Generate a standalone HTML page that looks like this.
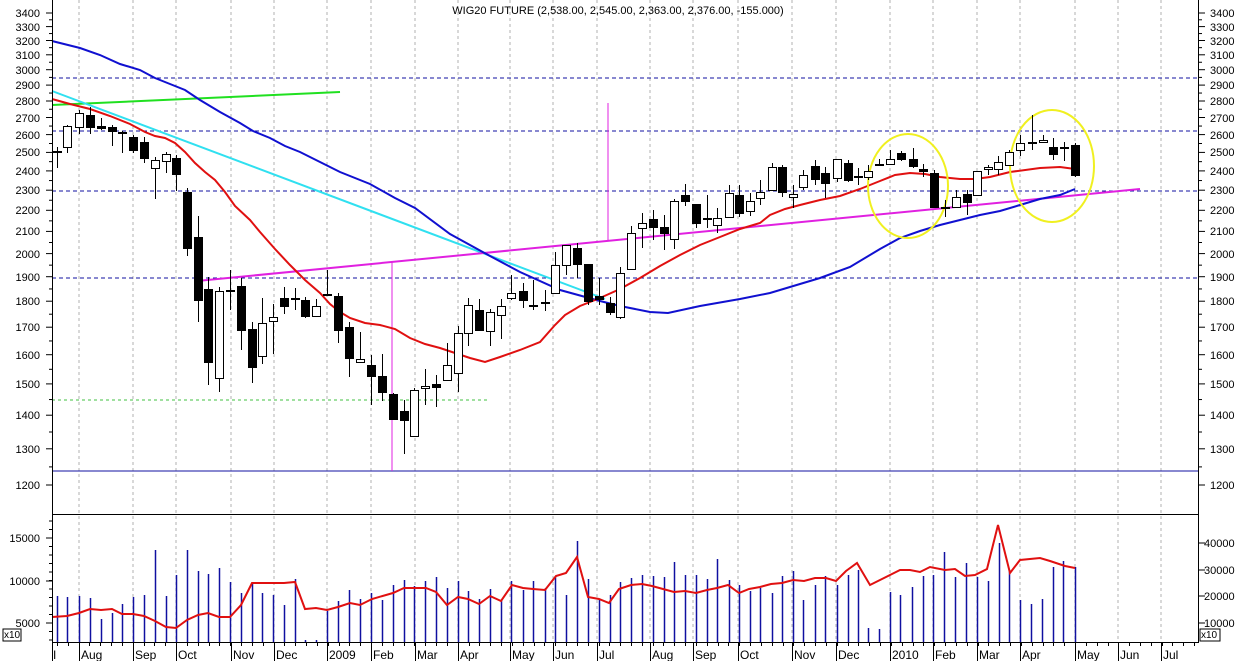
<!DOCTYPE html>
<html><head><meta charset="utf-8"><style>
html,body{margin:0;padding:0;background:#fff;}
svg{display:block;font-family:"Liberation Sans",sans-serif;font-size:11px;}
</style></head><body>
<svg id="s" width="1250" height="661" viewBox="0 0 1250 661" xmlns="http://www.w3.org/2000/svg">
<rect width="1250" height="661" fill="#fff"/>
<g id="grid" stroke="#b0b0b0" stroke-dasharray="3,3" stroke-width="1"></g>
<g id="hl"></g>
<g id="lines" fill="none"></g>
<g id="cand"></g>
<g id="vol"></g>
<g id="axes" stroke="#000" stroke-width="1"></g>
<text x="618" y="14" text-anchor="middle" font-size="11">WIG20 FUTURE (2,538.00, 2,545.00, 2,363.00, 2,376.00, -155.000)</text>
<g font-size="11" text-anchor="end">
<text x="40" y="17">3400</text><text x="40" y="31">3300</text><text x="40" y="45">3200</text><text x="40" y="59">3100</text><text x="40" y="74">3000</text><text x="40" y="89">2900</text><text x="40" y="105">2800</text><text x="40" y="122">2700</text><text x="40" y="139">2600</text><text x="40" y="156">2500</text><text x="40" y="175">2400</text><text x="40" y="194">2300</text><text x="40" y="214">2200</text><text x="40" y="235">2100</text><text x="40" y="258">2000</text><text x="40" y="281">1900</text><text x="40" y="305">1800</text><text x="40" y="331">1700</text><text x="40" y="359">1600</text><text x="40" y="388">1500</text><text x="40" y="419">1400</text><text x="40" y="453">1300</text><text x="40" y="489">1200</text>
<text x="40" y="542">15000</text><text x="40" y="585">10000</text><text x="40" y="627">5000</text>
</g>
<g font-size="11" text-anchor="start">
<text x="1210" y="17">3400</text><text x="1210" y="31">3300</text><text x="1210" y="45">3200</text><text x="1210" y="59">3100</text><text x="1210" y="74">3000</text><text x="1210" y="89">2900</text><text x="1210" y="105">2800</text><text x="1210" y="122">2700</text><text x="1210" y="139">2600</text><text x="1210" y="156">2500</text><text x="1210" y="175">2400</text><text x="1210" y="194">2300</text><text x="1210" y="214">2200</text><text x="1210" y="235">2100</text><text x="1210" y="258">2000</text><text x="1210" y="281">1900</text><text x="1210" y="305">1800</text><text x="1210" y="331">1700</text><text x="1210" y="359">1600</text><text x="1210" y="388">1500</text><text x="1210" y="419">1400</text><text x="1210" y="453">1300</text><text x="1210" y="489">1200</text>
<text x="1204" y="547">40000</text><text x="1204" y="574">30000</text><text x="1204" y="600">20000</text><text x="1204" y="627">10000</text>
</g>
<rect x="3" y="629" width="18" height="12" fill="none" stroke="#000"/><text x="4" y="638" font-size="10">x10</text>
<rect x="1200" y="629" width="20" height="12" fill="none" stroke="#000"/><text x="1201" y="638" font-size="10">x10</text>
<g font-size="12">
<text x="53" y="659">I</text><text x="81" y="659">Aug</text><text x="135" y="659">Sep</text><text x="178" y="659">Oct</text><text x="233" y="659">Nov</text><text x="276" y="659">Dec</text><text x="329" y="659">2009</text><text x="373" y="659">Feb</text><text x="417" y="659">Mar</text><text x="460" y="659">Apr</text><text x="512" y="659">May</text><text x="555" y="659">Jun</text><text x="599" y="659">Jul</text><text x="652" y="659">Aug</text><text x="695" y="659">Sep</text><text x="740" y="659">Oct</text><text x="794" y="659">Nov</text><text x="838" y="659">Dec</text><text x="892" y="659">2010</text><text x="935" y="659">Feb</text><text x="979" y="659">Mar</text><text x="1022" y="659">Apr</text><text x="1077" y="659">May</text><text x="1120" y="659">Jun</text><text x="1163" y="659">Jul</text>
</g>
<script>
var NS="http://www.w3.org/2000/svg";
function el(p,t,a){var e=document.createElementNS(NS,t);for(var k in a)e.setAttribute(k,a[k]);document.getElementById(p).appendChild(e);return e;}
function pl(p,pts,c,w,extra){var a={points:pts.map(function(q){return q.join(",")}).join(" "),stroke:c,"stroke-width":w,fill:"none"};for(var k in extra)a[k]=extra[k];return el(p,"polyline",a);}
var months=[79,133,176,231,274,327,371,415,458,510,553,597,650,693,738,792,836,890,933,977,1020,1075,1118,1161];
months.forEach(function(x){el("grid","line",{x1:x,y1:0,x2:x,y2:642});});
[78,131,191,278].forEach(function(y){el("hl","line",{x1:52,y1:y,x2:1199,y2:y,stroke:"#1010a0","stroke-dasharray":"4,3","stroke-width":1});});
el("hl","line",{x1:52,y1:400,x2:490,y2:400,stroke:"#40c040","stroke-dasharray":"3,3","stroke-width":1});
el("hl","line",{x1:52,y1:471,x2:1199,y2:471,stroke:"#1010a0","stroke-width":1});
el("hl","line",{x1:392,y1:262,x2:392,y2:471,stroke:"#e020e0","stroke-width":1});
el("hl","line",{x1:608,y1:103,x2:608,y2:240,stroke:"#e020e0","stroke-width":1});
// trend lines
pl("lines",[[52,105],[340,92]],"#20e020",2);
pl("lines",[[52,91],[605,299]],"#30e0f0",2);
pl("lines",[[197,281],[1140,189]],"#e020e0",2);
pl("lines",[[52,41],[80,48],[100,55],[120,64],[140,70],[155,78],[170,84],[185,90],[200,100],[220,112],[240,123],[253,131],[270,138],[285,146],[300,152],[320,162],[340,172],[370,184],[395,198],[415,208],[450,234],[490,256],[520,272],[560,290],[600,301],[620,306],[650,312],[668,313],[700,306],[740,299],[770,293],[800,284],[820,278],[850,267],[880,249],[900,238],[920,231],[940,225],[960,220],[980,215],[1000,211],[1020,205],[1040,199],[1060,195],[1075,189]],"#1010d0",2);
pl("lines",[[52,99],[70,104],[90,109],[110,116],[130,124],[145,132],[155,136],[165,138],[175,143],[185,152],[195,163],[205,172],[215,180],[225,192],[235,206],[250,220],[260,232],[275,249],[290,265],[305,280],[320,293],[330,304],[340,312],[350,318],[365,323],[380,325],[395,329],[410,338],[425,344],[440,348],[455,353],[470,358],[485,362],[500,357],[520,350],[540,342],[555,325],[565,315],[580,306],[600,298],[620,289],[640,278],[660,266],[680,255],[700,245],[720,237],[740,229],[760,223],[770,215],[785,209],[800,205],[820,200],[840,196],[860,189],[880,181],[895,175],[910,173],[925,174],[940,177],[960,179],[975,179],[990,177],[1010,172],[1040,168],[1060,167],[1075,169]],"#e01010",2);
el("lines","ellipse",{cx:908,cy:186,rx:40,ry:52,stroke:"#f0f020","stroke-width":2,fill:"none"});
el("lines","ellipse",{cx:1052,cy:166,rx:42,ry:56,stroke:"#f0f020","stroke-width":2,fill:"none"});
// candles [x,high,top,bot,low,filled]
var C=[[57,147,151,152,168,0],[67,125,126,147,153,0],[79,110,113,127,134,0],[90,107,115,127,134,1],[101,118,126,128,130,1],[112,125,127,131,146,1],[122,131,132,133,153,1],[133,135,137,150,153,1],[144,137,142,158,163,1],[155,157,160,168,199,0],[166,152,154,161,173,0],[176,155,158,174,191,1],[187,188,192,248,256,1],[198,216,237,300,322,1],[208,277,289,362,385,1],[219,287,291,378,392,0],[230,270,290,291,310,0],[241,278,286,330,350,1],[252,322,329,367,383,1],[262,298,323,356,364,0],[273,304,317,321,354,0],[284,287,298,306,314,1],[295,288,298,299,310,0],[305,297,300,316,318,1],[316,299,306,316,316,0],[327,270,294,295,295,0],[338,293,296,330,343,1],[349,322,327,358,377,1],[360,332,359,362,363,0],[371,355,365,376,405,1],[382,354,376,392,401,1],[393,393,394,419,419,1],[404,400,411,420,454,1],[414,388,390,436,437,0],[425,369,386,388,405,0],[436,375,384,387,407,1],[447,343,365,380,380,0],[458,326,333,373,392,0],[468,298,305,333,346,0],[479,299,310,330,330,1],[490,309,312,331,346,0],[501,299,306,315,339,0],[511,275,293,298,300,0],[523,283,291,300,308,1],[533,280,305,306,310,1],[545,290,302,303,311,1],[555,252,265,293,293,0],[566,245,245,265,275,0],[577,243,248,264,278,1],[588,264,264,301,305,1],[599,278,296,299,305,1],[610,297,303,312,315,1],[620,267,273,317,319,0],[631,226,233,269,269,0],[642,213,223,228,248,0],[653,210,219,227,240,1],[664,215,227,233,250,1],[674,199,201,239,249,0],[685,184,195,201,206,1],[696,204,204,223,228,1],[707,195,218,219,228,1],[717,208,218,225,233,0],[729,185,193,217,217,0],[739,185,195,213,217,1],[750,193,201,211,216,0],[760,180,192,198,205,0],[772,163,167,190,190,0],[782,165,167,192,197,1],[793,185,194,197,208,0],[803,170,175,187,190,0],[815,160,166,179,185,1],[825,167,173,183,198,1],[837,159,159,178,182,0],[848,160,163,180,182,1],[858,168,176,177,185,1],[868,165,171,177,180,0],[879,159,164,165,165,0],[890,150,159,164,164,0],[901,151,153,159,161,1],[913,148,159,166,168,1],[923,164,169,171,177,1],[934,170,173,207,207,1],[945,200,207,208,217,1],[956,190,197,207,207,0],[967,190,194,202,215,1],[977,171,171,195,196,0],[988,165,167,169,175,0],[998,156,162,169,175,0],[1009,150,152,165,165,0],[1020,135,143,150,156,0],[1032,115,142,143,150,1],[1043,135,140,142,142,0],[1053,138,147,154,160,1],[1064,142,147,148,161,0],[1075,143,145,175,177,1]];
C.forEach(function(c){
 el("cand","line",{x1:c[0]+0.5,y1:c[1],x2:c[0]+0.5,y2:c[4],stroke:"#000","stroke-width":1});
 var h=Math.max(1,c[3]-c[2]);
 el("cand","rect",{x:c[0]-3.5,y:c[2]+0.5,width:8,height:h,fill:c[5]?"#000":"#fff",stroke:"#000","stroke-width":1});
});
// volume
var V=[[57,596],[67,597],[79,596],[90,598],[101,619],[112,613],[122,604],[133,597],[144,595],[155,550],[166,596],[176,575],[187,550],[198,571],[208,574],[219,568],[230,582],[241,593],[252,583],[262,593],[273,595],[284,605],[295,579],[305,640],[316,640],[327,611],[338,601],[349,590],[360,599],[371,593],[382,600],[393,585],[404,580],[414,586],[425,581],[436,577],[447,588],[458,581],[468,591],[479,599],[490,589],[501,600],[511,581],[523,590],[533,581],[545,588],[555,577],[566,595],[577,541],[588,579],[599,600],[610,595],[620,582],[631,578],[642,575],[653,576],[664,577],[674,562],[685,575],[696,575],[707,579],[717,559],[729,580],[739,585],[750,591],[760,588],[772,593],[782,576],[793,571],[803,600],[815,585],[825,576],[837,585],[848,575],[858,570],[868,628],[879,629],[890,592],[900,595],[912,587],[923,576],[933,575],[944,552],[955,577],[966,563],[977,577],[988,581],[999,543],[1009,570],[1020,600],[1031,604],[1042,599],[1053,567],[1063,561],[1075,567]];
V.forEach(function(v){el("vol","line",{x1:v[0]+0.5,y1:v[1],x2:v[0]+0.5,y2:642,stroke:"#1010a0","stroke-width":1.5});});
pl("vol",[[52,617],[67,616],[79,613],[90,609],[101,610],[112,609],[122,614],[133,614],[144,616],[155,621],[166,627],[176,628],[187,620],[198,615],[208,613],[219,617],[230,617],[241,605],[252,583],[273,583],[284,583],[295,582],[305,609],[316,608],[327,610],[338,607],[350,603],[360,605],[372,599],[393,593],[404,588],[426,588],[436,592],[447,605],[458,597],[468,599],[479,604],[490,596],[501,601],[512,585],[523,588],[533,589],[545,590],[556,576],[566,573],[577,557],[588,597],[599,599],[609,603],[619,589],[631,585],[642,584],[652,586],[663,589],[674,592],[685,591],[696,593],[707,590],[717,588],[728,585],[739,593],[749,589],[760,587],[771,584],[782,583],[793,580],[804,581],[815,578],[826,578],[836,581],[846,571],[857,563],[870,585],[880,580],[890,575],[900,570],[910,570],[920,572],[930,567],[945,570],[955,569],[965,576],[975,575],[987,569],[998,525],[1010,573],[1020,560],[1040,558],[1050,561],[1065,566],[1075,568]],"#e01010",2);
// axes
el("axes","line",{x1:52.5,y1:0,x2:52.5,y2:642});
el("axes","line",{x1:1198.5,y1:0,x2:1198.5,y2:642});
el("axes","line",{x1:52,y1:514.5,x2:1199,y2:514.5});
el("axes","line",{x1:52,y1:642.5,x2:1199,y2:642.5});
var py=[13,26.6,40.5,54.8,69.7,85.1,101,117.5,134.6,152.4,170.9,190.2,210.3,231.4,253.6,276.7,301.2,327.2,354.7,383.9,415.2,448.8,485];
py.forEach(function(y){el("axes","line",{x1:46,y1:y,x2:52,y2:y});el("axes","line",{x1:1199,y1:y,x2:1205,y2:y});});
for(var i=0;i<22;i++){var y=py[i]+(py[i+1]-py[i])/2;el("axes","line",{x1:49,y1:y,x2:52,y2:y});el("axes","line",{x1:1199,y1:y,x2:1202,y2:y});}
[538,581,623].forEach(function(y){el("axes","line",{x1:46,y1:y,x2:52,y2:y});});
for(var y=521;y<642;y+=8.5){el("axes","line",{x1:49,y1:y,x2:52,y2:y});}
[543,570,596,623].forEach(function(y){el("axes","line",{x1:1199,y1:y,x2:1205,y2:y});});
for(var x=57;x<1199;x+=10.83){el("axes","line",{x1:Math.round(x)+0.5,y1:642,x2:Math.round(x)+0.5,y2:646});}
months.concat([52]).forEach(function(x){el("axes","line",{x1:x+0.5,y1:642,x2:x+0.5,y2:661});});
</script>
</svg>
</body></html>
